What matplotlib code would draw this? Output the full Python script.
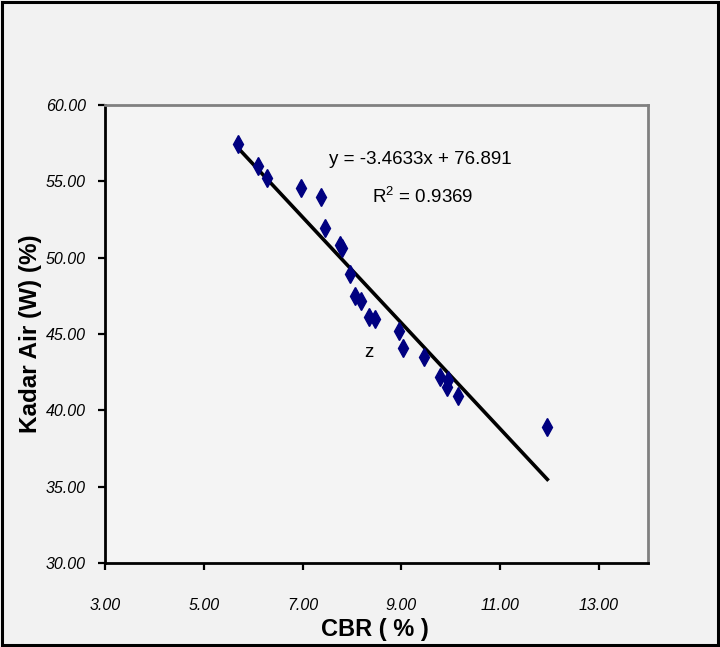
import matplotlib
matplotlib.use("Agg")
import matplotlib.pyplot as plt
from matplotlib.patches import Rectangle
from matplotlib.ticker import FormatStrFormatter

plt.rcParams['font.family'] = ['Liberation Sans', 'DejaVu Sans']
plt.rcParams['mathtext.fontset'] = 'custom'
plt.rcParams['mathtext.rm'] = 'Liberation Sans'

# CBR (%) vs Kadar Air (%) readings
cbr = [5.69, 6.09, 6.28, 6.97, 7.38, 7.45, 7.75, 7.80, 7.97, 8.07, 8.19,
       8.35, 8.47, 8.95, 9.04, 9.46, 9.78, 9.95, 9.93, 10.15, 11.96]
kadar_air = [57.44, 56.02, 55.19, 54.58, 53.99, 51.91, 50.85, 50.65, 48.9, 47.5, 47.15,
             46.1, 45.97, 45.18, 44.09, 43.46, 42.19, 41.97, 41.49, 40.94, 38.9]

# trendline shown on the chart
slope = -3.4633
intercept = 76.891
r2 = 0.9369

x_ticks = [3, 5, 7, 9, 11, 13]
y_ticks = [30, 35, 40, 45, 50, 55, 60]

bg = '#f2f2f2'
fig = plt.figure(figsize=(7.2, 6.47), dpi=100, facecolor=bg)
ax = fig.add_axes([0.146, 0.13, 0.754, 0.708])
ax.set_facecolor('#f4f4f4')

ax.plot(cbr, kadar_air, linestyle='none', marker='d', markersize=9,
        color='#000080', zorder=3)

x0, x1 = min(cbr), max(cbr)
ax.plot([x0, x1], [slope * x0 + intercept, slope * x1 + intercept],
        color='black', linewidth=2.6, zorder=2)

ax.text(9.39, 56.45, 'y = %.4fx + %.3f' % (slope, intercept),
        ha='center', va='center', fontsize=13.5)
ax.text(9.44, 54.0, 'R$^2$ = %.4f' % r2, ha='center', va='center', fontsize=13.5)
ax.text(8.34, 43.8, 'z', ha='center', va='center', fontsize=13.5)

ax.set_xlim(3, 14)
ax.set_ylim(30, 60)
ax.set_xticks(x_ticks)
ax.set_yticks(y_ticks)
ax.xaxis.set_major_formatter(FormatStrFormatter('%.2f'))
ax.yaxis.set_major_formatter(FormatStrFormatter('%.2f'))
for lbl in ax.get_xticklabels() + ax.get_yticklabels():
    lbl.set_fontstyle('italic')
    lbl.set_fontsize(11.5)
ax.tick_params(axis='x', length=5, width=1.6, pad=20)
ax.tick_params(axis='y', length=5, width=1.6, pad=9)

for side in ['left', 'bottom']:
    ax.spines[side].set_color('black')
    ax.spines[side].set_linewidth(2)
for side in ['top', 'right']:
    ax.spines[side].set_color('#808080')
    ax.spines[side].set_linewidth(2)

ax.set_xlabel('CBR ( % )', fontsize=17, fontweight='bold')
ax.set_ylabel('Kadar Air (W) (%)', fontsize=17.5, fontweight='bold')
ax.xaxis.set_label_coords(0.497, -0.121)
ax.yaxis.set_label_coords(-0.117, 0.5)

fig.patches.append(Rectangle((0.003, 0.003), 0.994, 0.994, transform=fig.transFigure,
                             fill=False, edgecolor='black', linewidth=2.2))

fig.savefig('out.png', dpi=100, facecolor=bg)
